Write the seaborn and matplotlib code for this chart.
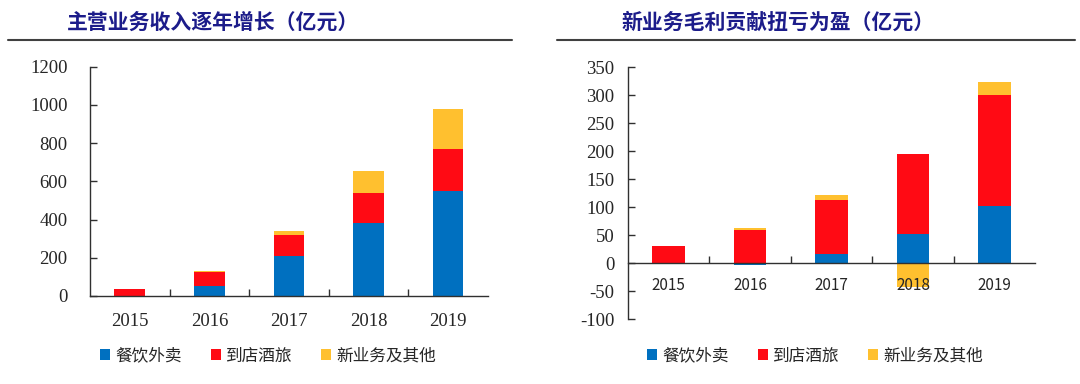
import numpy as np
import pandas as pd
import matplotlib
matplotlib.use("Agg")
import matplotlib.pyplot as plt
from matplotlib.patches import Patch
from matplotlib.lines import Line2D
import seaborn as sns

years = ["2015", "2016", "2017", "2018", "2019"]
series_names = ["餐饮外卖", "到店酒旅", "新业务及其他"]

# 主营业务收入（亿元）
rev_food = [0, 54, 210, 381, 549]
rev_hotel = [38, 70, 108, 159, 221]
rev_new = [0, 6, 22, 112, 207]

# 毛利（亿元）
gp_food = [-1, -4, 17, 52, 102]
gp_hotel = [30, 59, 95, 142, 198]
gp_new = [0, 4, 10, -42, 23]

colors = ["#0070C0", "#FF0A14", "#FFC02F"]
title_color = "#1C1C8A"

sns.set_theme(style="white")
plt.rcParams["font.family"] = ["Noto Sans CJK SC", "DejaVu Sans"]

fig = plt.figure(figsize=(10.8, 3.84), dpi=100)
ax1 = fig.add_axes([0.0833, 0.2292, 0.3685, 0.5971])
ax2 = fig.add_axes([0.5815, 0.1685, 0.3769, 0.6570])


def stacked(ax, series, width):
    vals = np.array(series, dtype=float)  # shape (3, n)
    pos = np.clip(vals, 0, None)
    neg = np.clip(vals, None, 0)
    pos_cum = np.cumsum(pos, axis=0)
    neg_cum = np.cumsum(neg, axis=0)
    # draw cumulative tops in reverse order so that lower segments overlay
    for i in reversed(range(len(series))):
        for cum in (pos_cum, neg_cum):
            df = pd.DataFrame({"year": years, "v": cum[i]})
            sns.barplot(data=df, x="year", y="v", order=years, color=colors[i],
                        width=width, linewidth=0, saturation=1, ax=ax,
                        errorbar=None)


stacked(ax1, [rev_food, rev_hotel, rev_new], 0.385)
stacked(ax2, [gp_food, gp_hotel, gp_new], 0.40)

serif = ["Liberation Serif", "DejaVu Serif"]
axis_color = "#303030"

for ax in (ax1, ax2):
    ax.set_axisbelow(False)
    for s in ("top", "right"):
        ax.spines[s].set_visible(False)
    for s in ("left", "bottom"):
        ax.spines[s].set_color(axis_color)
        ax.spines[s].set_linewidth(1.0)
    ax.set_xlim(-0.5, 4.5)
    ax.set_xlabel("")
    ax.set_ylabel("")
    ax.set_xticks(range(len(years)))
    ax.set_xticklabels(years, fontfamily=serif, fontsize=13.5)
    ax.set_xticks(np.arange(0.5, 4.5, 1.0), minor=True)
    ax.tick_params(axis="x", which="major", length=0, pad=12)
    ax.tick_params(axis="x", which="minor", direction="in", length=5,
                   color=axis_color, width=1.0, bottom=True)
    ax.tick_params(axis="y", direction="in", length=5, color=axis_color,
                   width=1.0, left=True, pad=10)
    ax.grid(False)

ax1.set_ylim(0, 1200)
ax1.set_yticks(np.arange(0, 1201, 200))
ax1.set_yticklabels([str(v) for v in range(0, 1201, 200)], fontfamily=serif, fontsize=13.5)
ax1.tick_params(axis="y", pad=16)

ax2.set_ylim(-100, 350)
ax2.set_yticks(np.arange(-100, 351, 50))
ax2.set_yticklabels([str(v) for v in range(-100, 351, 50)], fontfamily=serif, fontsize=13.5)
ax2.spines["bottom"].set_position(("data", 0))
ax2.tick_params(axis="x", which="major", pad=10)

# Titles and underlines
fig.text(213 / 1080, 1 - 22 / 384, "主营业务收入逐年增长（亿元）", ha="center", va="center",
         fontsize=15, fontweight="bold", color=title_color)
fig.text(778 / 1080, 1 - 22 / 384, "新业务毛利贡献扭亏为盈（亿元）", ha="center", va="center",
         fontsize=15, fontweight="bold", color=title_color)
for x0, x1 in ((8, 512), (557, 1075)):
    fig.add_artist(Line2D([x0 / 1080, x1 / 1080], [1 - 40 / 384, 1 - 40 / 384],
                          transform=fig.transFigure, color="#404040", linewidth=1.5))

# Legends
handles = [Patch(facecolor=c, edgecolor="none") for c in colors]
for cx in (268 / 1080, 815 / 1080):
    fig.legend(handles, series_names, loc="center", bbox_to_anchor=(cx, 1 - 356 / 384),
               ncol=3, frameon=False, fontsize=12, handlelength=0.6, handleheight=0.6,
               handletextpad=0.3, columnspacing=1.75)

fig.savefig("out.png", dpi=100, facecolor="white")
